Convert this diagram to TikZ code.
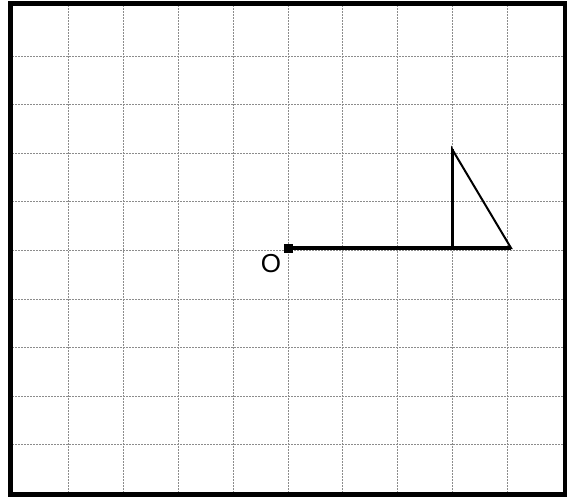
\documentclass[tikz,border=0pt]{standalone}
\usepackage{fontspec}
\setmainfont{Liberation Sans}
\begin{document}
\begin{tikzpicture}[x=1pt,y=-1pt,
  gridline/.style={draw=gray!90,line width=0.7pt,dash pattern=on 2pt off 1pt},
  frame/.style={draw=black,line width=4.5pt},
  thickseg/.style={draw=black,line width=4pt},
  tri/.style={draw=black,line width=2pt,line join=miter},
  lbl/.style={font=\fontsize{26}{26}\selectfont,inner sep=0pt}]
\useasboundingbox (0,0) rectangle (570,496);
\foreach \k in {1,...,9} {
  \draw[gridline] ({13.4+54.9*\k},5) -- ({13.4+54.9*\k},492);
  \draw[gridline] (12,{7.4+48.6*\k}) -- (563,{7.4+48.6*\k});
}
\draw[frame] (10.5,3.5) rectangle (565,494.5);
\coordinate (O) at (288.5,248);
\coordinate (B) at (452,248);
\coordinate (A) at (452,149);
\coordinate (C) at (511,248);
\draw[thickseg] (O) -- (B);
\draw[tri] (B) -- (A) -- (C) -- cycle;
\draw[line width=3pt] (B) -- (A);
\draw[line width=3.5pt] (B) -- (C);
\node[fill=black,minimum size=9pt,inner sep=0pt] (sq) at (O) {};
\node[lbl] (Olabel) at (271,264) {O};
\end{tikzpicture}
\end{document}
